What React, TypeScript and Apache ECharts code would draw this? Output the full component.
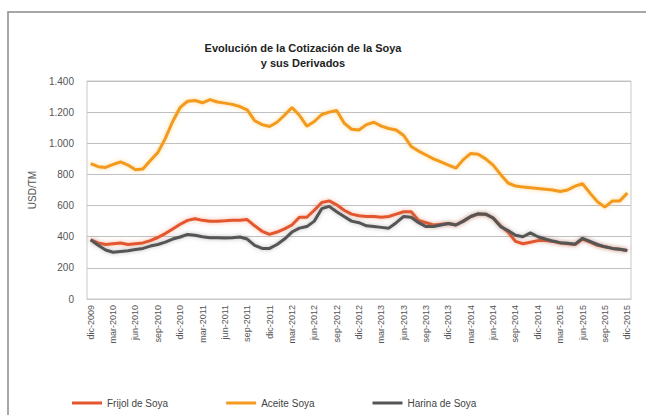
import React, { useEffect, useRef } from "react";
import * as echarts from "echarts";

const months = ["ene", "feb", "mar", "abr", "may", "jun", "jul", "ago", "sep", "oct", "nov", "dic"];
const categories: string[] = ["dic-2009"];
for (let y = 2010; y <= 2015; y++) for (const m of months) categories.push(`${m}-${y}`);

const frijol = [
  380, 360, 350, 355, 360, 350, 355, 360, 375, 395,
  420, 450, 480, 505, 515, 505, 500, 500, 502, 505,
  505, 510, 470, 435, 415, 430, 450, 475, 525, 525,
  570, 620, 630, 605, 570, 545, 535, 530, 530, 525,
  530, 545, 560, 560, 505, 490, 475, 480, 485, 475,
  500, 530, 545, 545, 520, 470, 430, 370, 355, 365,
  375, 375, 370, 360, 355, 350, 385, 365, 345, 335,
  325, 320, 312,
];
const aceite = [
  870, 850, 845, 865, 880, 860, 830, 835, 890, 940,
  1030, 1140, 1230, 1270, 1275, 1260, 1280, 1265, 1258, 1250,
  1236, 1215, 1145, 1120, 1108, 1135, 1180, 1230, 1180, 1110,
  1140, 1185, 1200, 1210, 1130, 1090, 1085, 1120, 1135, 1110,
  1095, 1085, 1050, 980, 950, 925, 900, 880, 860, 840,
  895, 935, 930, 900, 860, 800, 745, 725, 720, 715,
  710, 705, 700, 690, 700, 725, 740, 680, 625, 590,
  630, 630, 680,
];
const harina = [
  380, 345, 315, 300, 305, 310, 318, 325, 340, 350,
  365, 385, 398, 415, 410, 400, 393, 393, 391, 393,
  398, 385, 345, 325, 325, 350, 385, 430, 455, 465,
  500, 580, 595, 560, 530, 500, 490, 470, 465, 460,
  455, 490, 530, 525, 490, 465, 465, 475, 485, 475,
  500, 530, 548, 545, 520, 465, 440, 410, 400, 425,
  400, 385, 372, 362, 358, 352, 390, 370, 350, 335,
  325, 320, 312,
];

const seriesNames = ["Frijol de Soya", "Aceite Soya", "Harina de Soya"];
const colors = ["#E4572E", "#F39A1E", "#555555"];
const glow = ["rgba(240,120,80,0.55)", "rgba(250,190,80,0.6)", "rgba(120,120,120,0.5)"];

const FONT = "Liberation Sans, Arial, sans-serif";

export default function App() {
  const ref = useRef<HTMLDivElement>(null);
  useEffect(() => {
    if (!ref.current) return;
    const chart = echarts.init(ref.current, null, { renderer: "svg" });
    const data = [frijol, aceite, harina];
    chart.setOption({
      animation: false,
      backgroundColor: "#ffffff",
      textStyle: { fontFamily: FONT },
      title: {
        text: "Evolución de la Cotización de la Soya\ny sus Derivados",
        left: 298,
        top: 35,
        textAlign: "center",
        textStyle: { fontFamily: FONT, fontSize: 11, fontWeight: "bold", color: "#222", lineHeight: 15 },
      },
      graphic: [
        {
          type: "rect",
          shape: { x: 8, y: 12, width: 700, height: 500 },
          style: { fill: "none", stroke: "#8a8a8a", lineWidth: 1.5 },
          silent: true,
        },
      ],
      legend: {
        data: seriesNames,
        left: 67,
        top: 393,
        itemGap: 58,
        itemWidth: 30,
        itemHeight: 3,
        icon: "rect",
        textStyle: { fontFamily: FONT, fontSize: 10, color: "#444" },
      },
      grid: {
        left: 87,
        right: 15,
        top: 81,
        bottom: 116,
        show: true,
        borderColor: "#c8c8c8",
        borderWidth: 1,
      },
      xAxis: {
        type: "category",
        data: categories,
        boundaryGap: true,
        axisLine: { lineStyle: { color: "#c8c8c8" } },
        axisTick: { show: false },
        axisLabel: {
          interval: 2,
          rotate: 90,
          fontFamily: FONT,
          fontSize: 9,
          color: "#555",
          margin: 6,
        },
      },
      yAxis: {
        type: "value",
        min: 0,
        max: 1400,
        interval: 200,
        name: "USD/TM",
        nameLocation: "middle",
        nameGap: 50,
        nameTextStyle: { fontFamily: FONT, fontSize: 10, color: "#555" },
        axisLine: { show: false },
        axisTick: { show: false },
        splitLine: { lineStyle: { color: "#c0c0c0" } },
        axisLabel: {
          fontFamily: FONT,
          fontSize: 10,
          color: "#555",
          margin: 13,
          formatter: (v: number) => (v >= 1000 ? `${Math.floor(v / 1000)}.${String(v % 1000).padStart(3, "0")}` : String(v)),
        },
      },
      series: seriesNames.map((name, i) => ({
        name,
        type: "line",
        data: data[i],
        symbol: "none",
        itemStyle: { color: colors[i] },
        lineStyle: { color: colors[i], width: 3, shadowBlur: 4, shadowColor: glow[i] },
      })),
    });
    return () => chart.dispose();
  }, []);
  return <div ref={ref} style={{ position: "fixed", left: 0, top: 0, width: 646, height: 415 }} />;
}
